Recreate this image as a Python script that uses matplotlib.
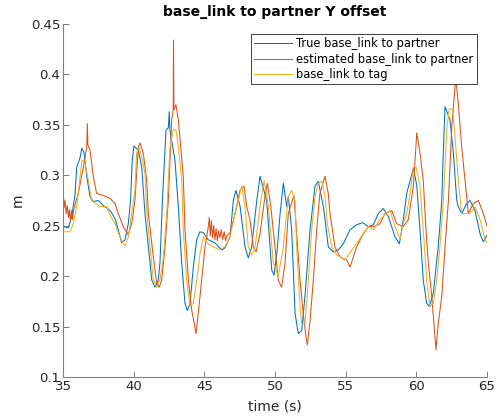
import matplotlib
matplotlib.use("Agg")
import matplotlib.pyplot as plt

# True base_link to partner (blue)
t_true = [35.02, 35.38, 35.62, 35.73, 35.85, 35.97, 36.20, 36.34, 36.49, 36.68, 36.91, 37.14,
          37.50, 37.85, 38.33, 38.68, 38.91, 39.15, 39.39, 39.62, 39.78, 39.90, 40.02, 40.33,
          40.57, 40.80, 41.04, 41.28, 41.51, 41.74, 41.86, 42.05, 42.29, 42.45, 42.52, 42.56,
          42.92, 43.16, 43.40, 43.63, 43.80, 43.99, 44.22, 44.46, 44.69, 44.93, 45.28, 45.75,
          46.23, 46.46, 46.82, 47.05, 47.24, 47.53, 47.88, 48.11, 48.35, 48.71, 48.94, 49.41,
          49.77, 49.93, 50.15, 50.36, 50.59, 50.83, 50.94, 51.18, 51.42, 51.65, 51.89, 52.12,
          52.48, 52.83, 53.06, 53.42, 53.54, 53.77, 54.13, 54.48, 54.83, 55.31, 55.78, 56.21,
          56.60, 56.96, 57.31, 57.66, 58.02, 58.49, 58.80, 59.08, 59.32, 59.79, 60.03, 60.26,
          60.49, 60.73, 60.92, 61.20, 61.55, 61.80, 61.90, 62.03, 62.38, 62.62, 62.86, 62.97,
          63.21, 63.56, 63.80, 64.15, 64.51, 64.74, 65.02]
y_true = [0.249, 0.248, 0.259, 0.270, 0.280, 0.308, 0.317, 0.327, 0.322, 0.299, 0.279, 0.274,
          0.275, 0.270, 0.265, 0.257, 0.246, 0.233, 0.236, 0.252, 0.275, 0.315, 0.329, 0.325,
          0.308, 0.262, 0.229, 0.196, 0.189, 0.196, 0.213, 0.280, 0.345, 0.347, 0.363, 0.345,
          0.315, 0.269, 0.213, 0.173, 0.166, 0.173, 0.209, 0.236, 0.244, 0.243, 0.236, 0.233,
          0.226, 0.228, 0.239, 0.275, 0.285, 0.269, 0.229, 0.218, 0.229, 0.275, 0.299, 0.275,
          0.206, 0.201, 0.225, 0.262, 0.292, 0.269, 0.279, 0.246, 0.163, 0.143, 0.146, 0.180,
          0.246, 0.289, 0.294, 0.269, 0.256, 0.229, 0.224, 0.226, 0.232, 0.246, 0.251, 0.253,
          0.249, 0.251, 0.262, 0.267, 0.259, 0.239, 0.232, 0.256, 0.282, 0.307, 0.290, 0.246,
          0.196, 0.173, 0.170, 0.183, 0.229, 0.275, 0.320, 0.368, 0.355, 0.322, 0.275, 0.269,
          0.262, 0.272, 0.275, 0.265, 0.242, 0.234, 0.241]

# estimated base_link to partner (orange)
t_est = [35.02, 35.08, 35.15, 35.22, 35.30, 35.38, 35.45, 35.52, 35.60, 35.68, 35.75, 36.08,
         36.44, 36.68, 36.72, 36.76, 36.91, 37.14, 37.38, 37.85, 38.33, 38.68, 38.91, 39.27,
         39.62, 39.86, 40.09, 40.33, 40.45, 40.68, 40.92, 41.04, 41.39, 41.63, 41.81, 41.98,
         42.22, 42.45, 42.69, 42.80, 42.82, 42.85, 42.99, 43.16, 43.51, 43.63, 43.87, 44.11,
         44.29, 44.41, 44.57, 44.81, 45.05, 45.28, 45.35, 45.42, 45.50, 45.58, 45.66, 45.75,
         45.83, 45.92, 46.00, 46.10, 46.20, 46.30, 46.40, 46.50, 46.58, 46.82, 47.17, 47.52,
         47.81, 48.00, 48.23, 48.47, 48.66, 48.94, 49.29, 49.46, 49.70, 50.00, 50.23, 50.47,
         50.71, 50.94, 51.34, 51.77, 52.00, 52.19, 52.29, 52.48, 52.71, 52.95, 53.18, 53.54,
         53.77, 53.89, 54.24, 54.60, 55.07, 55.31, 55.78, 56.25, 56.60, 56.96, 57.43, 57.78,
         58.26, 58.61, 59.08, 59.43, 59.79, 60.03, 60.26, 60.49, 60.68, 60.85, 61.09, 61.32,
         61.39, 61.55, 61.80, 62.03, 62.27, 62.51, 62.74, 62.81, 62.97, 63.21, 63.56, 63.68,
         64.03, 64.39, 64.74, 65.02]
y_est = [0.282, 0.268, 0.275, 0.262, 0.270, 0.258, 0.266, 0.255, 0.265, 0.256, 0.266, 0.282,
         0.308, 0.328, 0.351, 0.330, 0.325, 0.299, 0.282, 0.280, 0.277, 0.272, 0.262, 0.249,
         0.241, 0.252, 0.275, 0.328, 0.332, 0.322, 0.295, 0.262, 0.219, 0.193, 0.189, 0.196,
         0.229, 0.275, 0.355, 0.365, 0.434, 0.365, 0.370, 0.355, 0.299, 0.246, 0.196, 0.166,
         0.153, 0.143, 0.163, 0.196, 0.229, 0.249, 0.258, 0.240, 0.255, 0.238, 0.250, 0.236,
         0.247, 0.235, 0.245, 0.238, 0.246, 0.236, 0.244, 0.235, 0.240, 0.243, 0.262, 0.285,
         0.289, 0.269, 0.256, 0.229, 0.224, 0.242, 0.279, 0.292, 0.269, 0.229, 0.196, 0.189,
         0.213, 0.262, 0.280, 0.196, 0.163, 0.140, 0.132, 0.156, 0.196, 0.246, 0.282, 0.299,
         0.282, 0.262, 0.229, 0.219, 0.216, 0.209, 0.229, 0.242, 0.249, 0.249, 0.252, 0.262,
         0.265, 0.252, 0.249, 0.256, 0.289, 0.342, 0.322, 0.295, 0.246, 0.213, 0.180, 0.140,
         0.127, 0.153, 0.180, 0.229, 0.275, 0.348, 0.388, 0.394, 0.371, 0.328, 0.279, 0.262,
         0.272, 0.275, 0.262, 0.249]

# base_link to tag (yellow)
t_tag = [35.02, 35.50, 35.73, 35.97, 36.34, 36.56, 36.79, 37.03, 37.62, 38.09, 38.33, 38.68,
         39.03, 39.27, 39.39, 39.62, 39.86, 40.09, 40.21, 40.38, 40.57, 40.80, 40.92, 41.16,
         41.39, 41.63, 41.86, 42.10, 42.34, 42.57, 42.80, 42.99, 43.16, 43.40, 43.51, 43.75,
         43.99, 44.22, 44.46, 44.69, 44.93, 45.28, 45.63, 46.11, 46.46, 46.82, 47.17, 47.52,
         47.64, 47.88, 48.11, 48.35, 48.59, 48.94, 49.23, 49.53, 49.88, 50.23, 50.59, 50.94,
         51.18, 51.42, 51.53, 51.77, 51.89, 52.12, 52.36, 52.60, 52.83, 53.06, 53.30, 53.54,
         53.70, 54.01, 54.37, 54.95, 56.60, 56.96, 57.43, 57.78, 58.14, 58.49, 58.85, 59.08,
         59.32, 59.56, 59.79, 59.98, 60.26, 60.49, 60.73, 60.96, 61.20, 61.44, 61.67, 61.91,
         62.15, 62.33, 62.57, 62.74, 62.97, 63.21, 63.80, 64.15, 64.51, 64.86, 65.02]
y_tag = [0.244, 0.244, 0.252, 0.269, 0.315, 0.312, 0.295, 0.275, 0.269, 0.269, 0.260, 0.252,
         0.239, 0.232, 0.230, 0.239, 0.262, 0.285, 0.322, 0.328, 0.318, 0.302, 0.265, 0.229,
         0.196, 0.189, 0.196, 0.219, 0.262, 0.328, 0.345, 0.345, 0.328, 0.295, 0.246, 0.196,
         0.170, 0.173, 0.196, 0.222, 0.239, 0.232, 0.229, 0.226, 0.229, 0.239, 0.262, 0.282,
         0.289, 0.269, 0.229, 0.221, 0.229, 0.269, 0.295, 0.269, 0.213, 0.200, 0.229, 0.279,
         0.285, 0.275, 0.229, 0.170, 0.153, 0.153, 0.196, 0.246, 0.279, 0.292, 0.294, 0.279,
         0.252, 0.229, 0.221, 0.216, 0.249, 0.246, 0.256, 0.261, 0.265, 0.249, 0.237, 0.252,
         0.262, 0.282, 0.308, 0.308, 0.289, 0.246, 0.196, 0.170, 0.173, 0.196, 0.229, 0.275,
         0.345, 0.366, 0.365, 0.338, 0.295, 0.262, 0.262, 0.269, 0.256, 0.236, 0.232]

labels = ["True base_link to partner", "estimated base_link to partner", "base_link to tag"]
colors = ["#0072BD", "#D95319", "#EDB120"]
x_ticks = [35, 40, 45, 50, 55, 60, 65]
y_ticks = [0.1, 0.15, 0.2, 0.25, 0.3, 0.35, 0.4, 0.45]
y_tick_labels = ["0.1", "0.15", "0.2", "0.25", "0.3", "0.35", "0.4", "0.45"]

plt.rcParams['font.family'] = ['DejaVu Sans']
fig = plt.figure(figsize=(5, 4.2), dpi=100)
ax = fig.add_axes([0.126, 0.1024, 0.848, 0.8406])

ax.plot(t_true, y_true, color=colors[0], lw=0.75, label=labels[0])
ax.plot(t_est, y_est, color=colors[1], lw=0.75, label=labels[1])
ax.plot(t_tag, y_tag, color=colors[2], lw=0.75, label=labels[2])

ax.set_xlim(35, 65)
ax.set_ylim(0.1, 0.45)
ax.set_xticks(x_ticks)
ax.set_yticks(y_ticks)
ax.set_yticklabels(y_tick_labels)
for s in ['top', 'right']:
    ax.spines[s].set_visible(False)
for s in ['left', 'bottom']:
    ax.spines[s].set_color('#808080')
    ax.spines[s].set_linewidth(0.8)
ax.tick_params(direction='in', length=4, width=0.7, color='#808080',
               labelsize=9.5, labelcolor='#262626', pad=2)

ax.set_xlabel("time (s)", fontsize=10, color='#262626', labelpad=5)
ax.set_ylabel("m", fontsize=10, color='#262626', labelpad=4.5)
ax.set_title("base_link to partner Y offset", fontsize=10, fontweight='bold',
             color='#000000', pad=6)

leg = ax.legend(loc='upper right', bbox_to_anchor=(0.976, 0.972), borderaxespad=0,
                fontsize=8.3, fancybox=False, framealpha=1, edgecolor='#404040',
                handlelength=3.3, handletextpad=0.35, labelspacing=0.2, borderpad=0.3)
leg.get_frame().set_linewidth(0.7)

fig.savefig("out.png", dpi=100)
